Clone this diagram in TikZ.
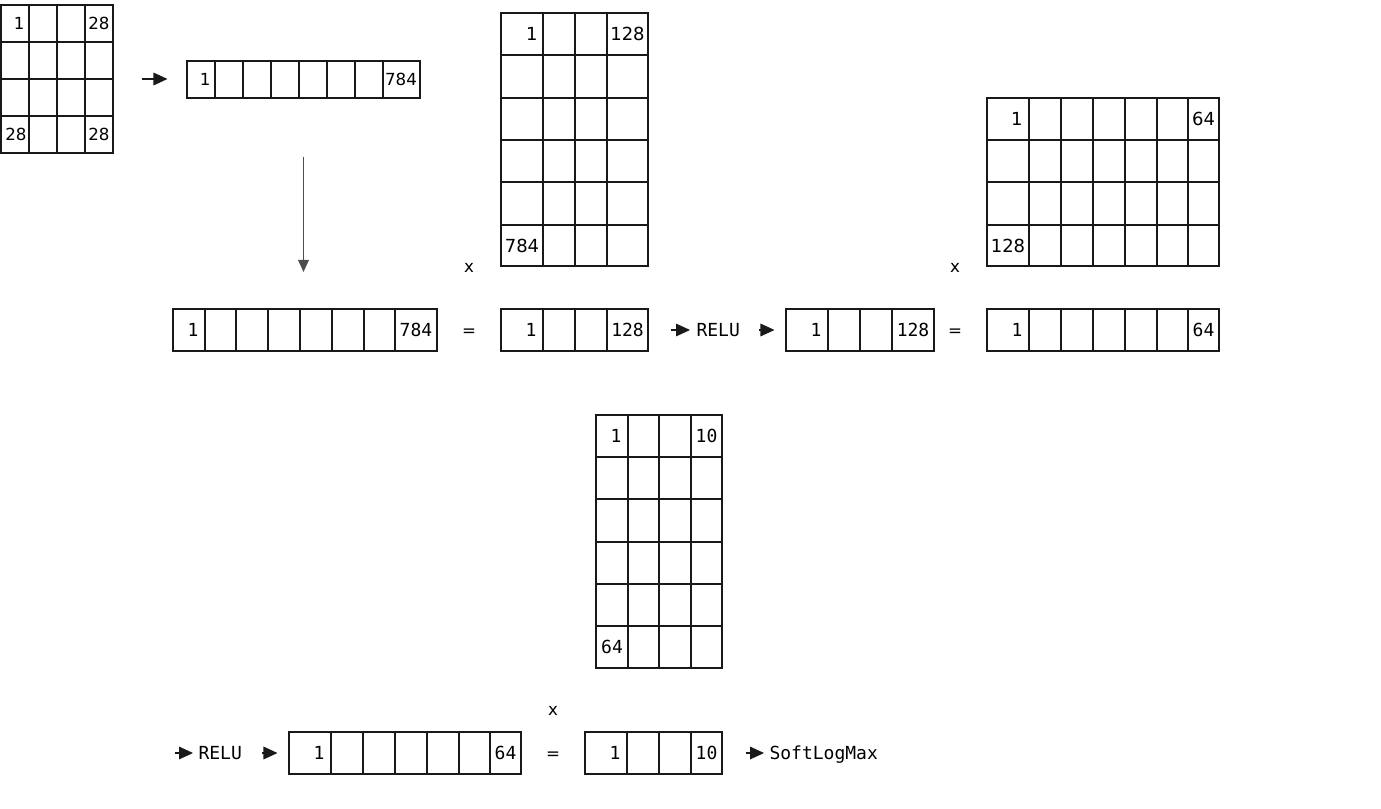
\documentclass[tikz,border=0pt]{standalone}
\usepackage{fontspec}
\setmainfont{DejaVu Sans}
\setmonofont{DejaVu Sans Mono}
\usetikzlibrary{arrows.meta,fit,positioning}

\begin{document}
\begin{tikzpicture}[x=0.75pt, y=-0.75pt, line width=0.8pt, draw=black!90]
  \tikzset{
    box/.style={draw, rectangle, inner sep=0pt},
    small/.style={inner sep=0pt, text depth=0pt, font=\fontsize{12.5}{14}\selectfont},
    big/.style={inner sep=0pt, text depth=0pt, font=\fontsize{13.5}{16}\selectfont},
    mono/.style={inner sep=0pt, text depth=0pt, font=\ttfamily\fontsize{13.5}{15}\selectfont},
    op/.style={inner sep=0pt, font=\fontsize{12.5}{15}\selectfont},
    arr/.style={-{Triangle[length=10.5pt,width=9.5pt]}},
    grayarr/.style={draw=black!70, line width=1pt, -{Triangle[length=9pt,width=8pt]}}
  }
  \useasboundingbox (0,0) rectangle (1381,809);

  % 28 x 28 image
  \node[box, fit={(1,5) (113,153)}] (g0) {};
  \foreach \x in {29,57,85} \draw (\x,5) -- (\x,153);
  \foreach \y in {42,79,116} \draw (1,\y) -- (113,\y);
  \node[small, anchor=east] (g0a) at (25,23.5) {1};
  \node[small] (g0b) at (99,23.5) {28};
  \node[small] (g0c) at (16,134.5) {28};
  \node[small] (g0d) at (99,134.5) {28};

  % flattened
  \node[box, fit={(187,61) (420,98)}] (g1) {};
  \foreach \x in {215,243,271,299,327,355,383} \draw (\x,61) -- (\x,98);
  \node[small, anchor=east] (g1a) at (211,79.5) {1};
  \node[small] (g1b) at (401,79.5) {784};

  \draw[arr, shorten <=21pt, shorten >=14.25pt] (g0.east) -- (g0.east -| g1.west);
  \draw[grayarr, shorten <=43.5pt, shorten >=27.75pt] (g1.south) -- (g1.south |- 0,309);

  % weights 784 x 128
  \node[box, fit={(501,13) (648,266)}] (m1) {};
  \foreach \x in {543,575,607} \draw (\x,13) -- (\x,266);
  \foreach \y in {55,98,140,182,225} \draw (501,\y) -- (648,\y);
  \node[big, anchor=east] (m1a) at (538,34) {1};
  \node[big] (m1b) at (627.5,34) {128};
  \node[big] (m1c) at (522,245.5) {784};
  \node[op] (x1) at (469,267.5) {x};

  % weights 128 x 64
  \node[box, fit={(987,98) (1219,266)}] (m2) {};
  \foreach \x in {1029,1061,1093,1125,1157,1188} \draw (\x,98) -- (\x,266);
  \foreach \y in {140,182,225} \draw (987,\y) -- (1219,\y);
  \node[big, anchor=east] (m2a) at (1023,119) {1};
  \node[big] (m2b) at (1203.5,119) {64};
  \node[big] (m2c) at (1008,245.5) {128};
  \node[op] (x2) at (955,267.5) {x};

  % first layer row
  \node[box, fit={(173,309) (437,351)}] (v1) {};
  \foreach \x in {205,236,268,300,332,364,395} \draw (\x,309) -- (\x,351);
  \node[mono, anchor=east] (v1a) at (199,330) {1};
  \node[mono] (v1b) at (416,330) {784};
  \node[op, anchor=base] (eq1) at (469,336.5) {=};

  \node[box, fit={(501,309) (648,351)}] (v2) {};
  \foreach \x in {543,575,607} \draw (\x,309) -- (\x,351);
  \node[mono, anchor=east] (v2a) at (537,330) {1};
  \node[mono] (v2b) at (627.5,330) {128};

  \node[mono, anchor=west] (relu1) at (696,330) {RELU};
  \draw[arr, shorten <=16.5pt, shorten >=4.5pt] (v2.east) -- (relu1.west);

  \node[box, fit={(786,309) (934,351)}] (v3) {};
  \foreach \x in {828,860,892} \draw (\x,309) -- (\x,351);
  \node[mono, anchor=east] (v3a) at (822,330) {1};
  \node[mono] (v3b) at (913,330) {128};
  \draw[arr, shorten <=14.25pt, shorten >=8.25pt] (relu1.east) -- (v3.west);
  \node[op, anchor=base] (eq2) at (955,336.5) {=};

  \node[box, fit={(987,309) (1219,351)}] (v4) {};
  \foreach \x in {1029,1061,1093,1125,1157,1188} \draw (\x,309) -- (\x,351);
  \node[mono, anchor=east] (v4a) at (1023,330) {1};
  \node[mono] (v4b) at (1203.5,330) {64};

  % weights 64 x 10
  \node[box, fit={(596,415) (722,668)}] (m3) {};
  \foreach \x in {628,659,691} \draw (\x,415) -- (\x,668);
  \foreach \y in {457,499,542,584,626} \draw (596,\y) -- (722,\y);
  \node[mono, anchor=east] (m3a) at (622,436) {1};
  \node[mono] (m3b) at (706.5,436) {10};
  \node[mono] (m3c) at (612,647) {64};
  \node[op] (x3) at (553,710.5) {x};

  % second layer row
  \coordinate (in2) at (175,753);
  \node[mono, anchor=west] (relu2) at (198,753) {RELU};
  \draw[arr, shorten >=3.75pt] (in2) -- (relu2.west);

  \node[box, fit={(289,732) (521,774)}] (v5) {};
  \foreach \x in {331,363,395,427,459,490} \draw (\x,732) -- (\x,774);
  \node[mono, anchor=east] (v5a) at (325,753) {1};
  \node[mono] (v5b) at (505.5,753) {64};
  \draw[arr, shorten <=15pt, shorten >=8.25pt] (relu2.east) -- (v5.west);
  \node[op, anchor=base] (eq3) at (553,759.5) {=};

  \node[box, fit={(585,732) (722,774)}] (v6) {};
  \foreach \x in {627,659,691} \draw (\x,732) -- (\x,774);
  \node[mono, anchor=east] (v6a) at (621,753) {1};
  \node[mono] (v6b) at (706.5,753) {10};

  \node[mono, anchor=west] (soft) at (769,753) {SoftLogMax};
  \draw[arr, shorten <=17.25pt, shorten >=3.75pt] (v6.east) -- (soft.west);
\end{tikzpicture}
\end{document}
